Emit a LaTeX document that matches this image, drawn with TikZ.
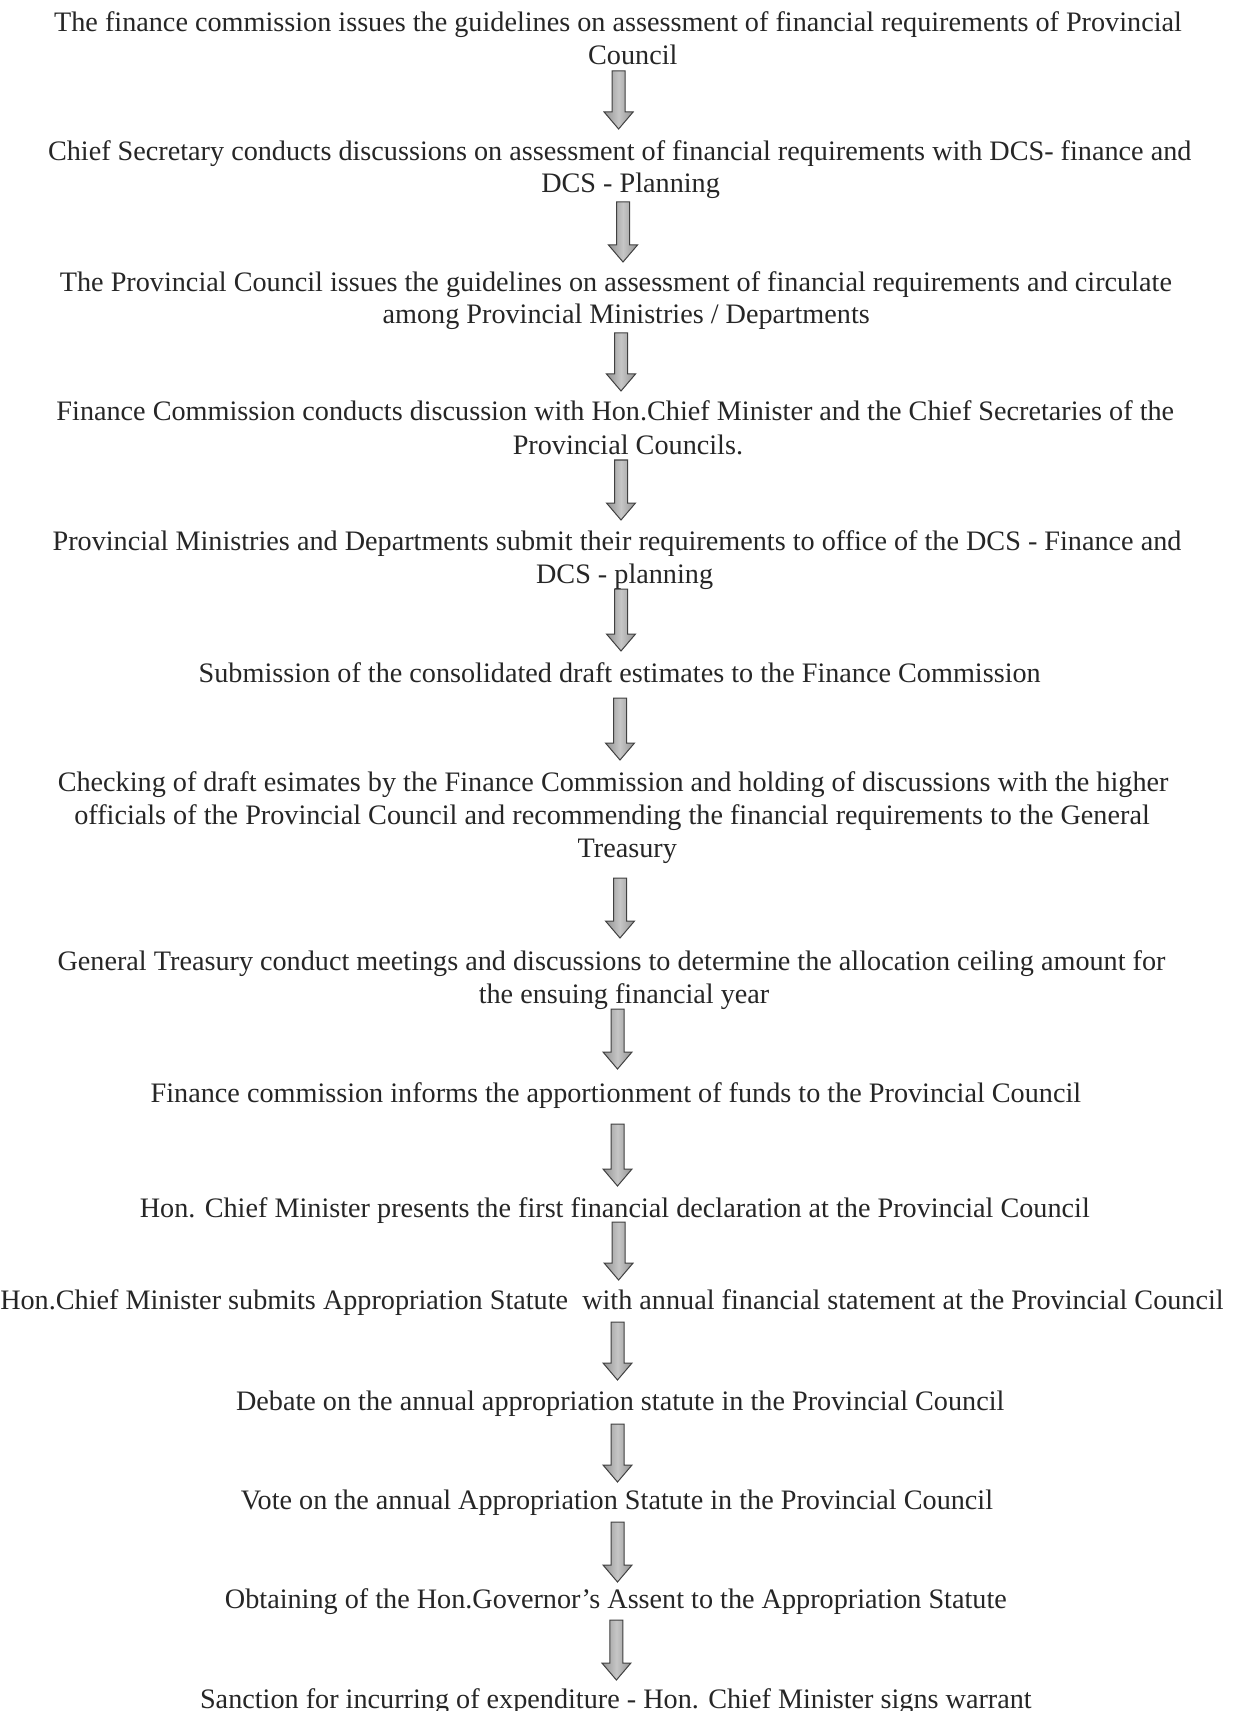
\documentclass[tikz,border=0pt]{standalone}
\usepackage{fontspec}
\setmainfont{Liberation Serif}
\usetikzlibrary{calc}
\tikzset{
  txt/.style={anchor=base, inner sep=0pt, font=\fontsize{14.1}{17}\selectfont, text=black!85},
  blockarr/.style={draw=gray!50!black, line width=0.5pt, left color=gray!85, right color=gray!85, middle color=gray!45},
}
\newcommand\blockarrow[2]{%
  \path[blockarr] ($(#1)+(-6.5,0)$) -- ($(#2)+(-6.5,-17)$) -- ($(#2)+(-14.5,-17)$) -- (#2)
    -- ($(#2)+(14.5,-17)$) -- ($(#2)+(6.5,-17)$) -- ($(#1)+(6.5,0)$) -- cycle;}
\begin{document}
\begin{tikzpicture}[x=0.5pt,y=-0.5pt]
\useasboundingbox (0,0) rectangle (1235,1711);
\clip (0,0) rectangle (1235,1711);
\fill[white] (0,0) rectangle (1235,1711);
% step texts
\node[txt] (s1a) at (618,32) {The finance commission issues the guidelines on assessment of financial requirements of Provincial};
\node[txt] (s1b) at (632.8,65) {Council};
\node[txt] (s2a) at (619.7,161) {Chief Secretary conducts discussions on assessment of financial requirements with DCS- finance and};
\node[txt] (s2b) at (630.6,193) {DCS - Planning};
\node[txt] (s3a) at (615.9,292) {The Provincial Council issues the guidelines on assessment of financial requirements and circulate};
\node[txt] (s3b) at (626.2,324) {among Provincial Ministries / Departments};
\node[txt] (s4a) at (615.3,421) {Finance Commission conducts discussion with Hon.Chief Minister and the Chief Secretaries of the};
\node[txt] (s4b) at (627.9,454) {Provincial Councils.};
\node[txt] (s5a) at (617,550) {Provincial Ministries and Departments submit their requirements to office of the DCS - Finance and};
\node[txt] (s5b) at (624.6,583) {DCS - planning};
\node[txt] (s6) at (619.7,682) {Submission of the consolidated draft estimates to the Finance Commission};
\node[txt] (s7a) at (613.1,791) {Checking of draft esimates by the Finance Commission and holding of discussions with the higher};
\node[txt] (s7b) at (612,824) {officials of the Provincial Council and recommending the financial requirements to the General};
\node[txt] (s7c) at (627.3,857) {Treasury};
\node[txt] (s8a) at (611.5,970) {General Treasury conduct meetings and discussions to determine the allocation ceiling amount for};
\node[txt] (s8b) at (624,1003) {the ensuing financial year};
\node[txt] (s9) at (615.9,1102) {Finance commission informs the apportionment of funds to the Provincial Council};
\node[txt] (s10) at (614.8,1217) {Hon. Chief Minister presents the first financial declaration at the Provincial Council};
\node[txt,anchor=base east] (s11) at (1224,1309) {Hon.Chief Minister submits Appropriation Statute\ \ with annual financial statement at the Provincial Council};
\node[txt] (s12) at (620.2,1410) {Debate on the annual appropriation statute in the Provincial Council};
\node[txt] (s13) at (617,1509) {Vote on the annual Appropriation Statute in the Provincial Council};
\node[txt] (s14) at (615.9,1608) {Obtaining of the Hon.Governor's Assent to the Appropriation Statute};
\node[txt] (s15) at (615.9,1708) {Sanction for incurring of expenditure - Hon. Chief Minister signs warrant};
% arrows
\coordinate (a1s) at (618.6,71);   \coordinate (a1e) at (618.6,129);
\coordinate (a2s) at (623,202);    \coordinate (a2e) at (623,262);
\coordinate (a3s) at (621,333);    \coordinate (a3e) at (621,391);
\coordinate (a4s) at (621,460);    \coordinate (a4e) at (621,520);
\coordinate (a5s) at (621,589);    \coordinate (a5e) at (621,651);
\coordinate (a6s) at (620,698);    \coordinate (a6e) at (620,760);
\coordinate (a7s) at (620,878);    \coordinate (a7e) at (620,938);
\coordinate (a8s) at (617.5,1009); \coordinate (a8e) at (617.5,1069);
\coordinate (a9s) at (617.5,1124); \coordinate (a9e) at (617.5,1186);
\coordinate (a10s) at (618.6,1222); \coordinate (a10e) at (618.6,1280);
\coordinate (a11s) at (617.5,1322); \coordinate (a11e) at (617.5,1380);
\coordinate (a12s) at (617.5,1424); \coordinate (a12e) at (617.5,1482);
\coordinate (a13s) at (617.5,1522); \coordinate (a13e) at (617.5,1582);
\coordinate (a14s) at (616.4,1620); \coordinate (a14e) at (616.4,1680);
\foreach \i in {1,...,14}{\blockarrow{a\i s}{a\i e}}
\end{tikzpicture}
\end{document}
